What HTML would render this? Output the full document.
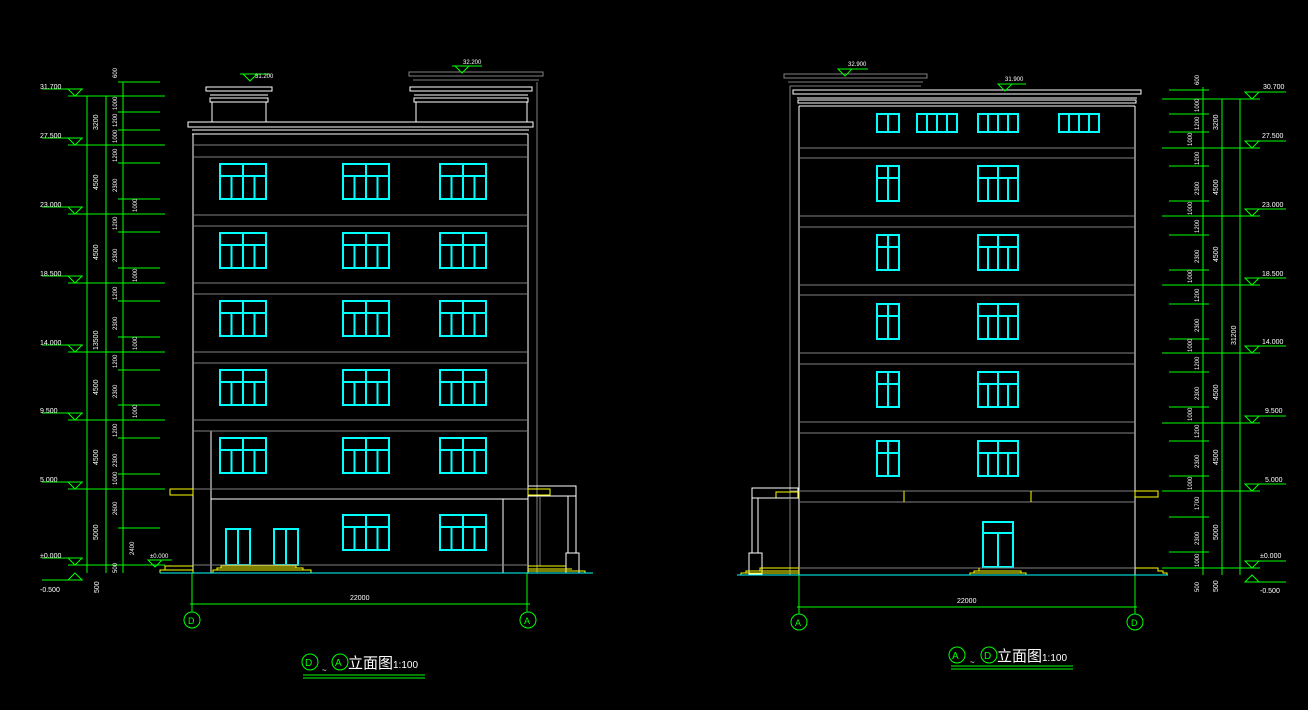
<!DOCTYPE html>
<html><head><meta charset="utf-8"><style>
html,body{margin:0;padding:0;background:#000;width:1308px;height:710px;overflow:hidden}
svg{display:block}
text{font-family:"Liberation Sans","Noto Sans CJK SC",sans-serif;fill:#fff}
</style></head><body>
<svg id="s" width="1308" height="710" viewBox="0 0 1308 710" xmlns="http://www.w3.org/2000/svg">
<g id="g" fill="none" stroke-width="1"></g>
<text x="339" y="626" font-size="0"> </text>
<text x="180" y="624" font-size="0"> </text>
<circle cx="310" cy="662" r="8" stroke="#0f0" fill="none"/><text x="305" y="666" font-size="10" style="fill:#0f0">D</text>
<circle cx="340" cy="662" r="8" stroke="#0f0" fill="none"/><text x="335" y="666" font-size="10" style="fill:#0f0">A</text>
<text x="322" y="673" font-size="8">~</text>
<text x="348" y="668" font-size="15">立面图</text><text x="393" y="668" font-size="10">1:100</text>
<circle cx="957" cy="655" r="8" stroke="#0f0" fill="none"/><text x="952" y="659" font-size="10" style="fill:#0f0">A</text>
<circle cx="989" cy="655" r="8" stroke="#0f0" fill="none"/><text x="984" y="659" font-size="10" style="fill:#0f0">D</text>
<text x="970" y="665" font-size="8">~</text>
<text x="997" y="661" font-size="15">立面图</text><text x="1042" y="661" font-size="10">1:100</text>
<circle cx="192" cy="620" r="8" stroke="#0f0" fill="none"/><text x="188" y="624" font-size="9" style="fill:#0f0">D</text>
<circle cx="528" cy="620" r="8" stroke="#0f0" fill="none"/><text x="524" y="624" font-size="9" style="fill:#0f0">A</text>
<circle cx="799" cy="622" r="8" stroke="#0f0" fill="none"/><text x="795" y="626" font-size="9" style="fill:#0f0">A</text>
<circle cx="1135" cy="622" r="8" stroke="#0f0" fill="none"/><text x="1131" y="626" font-size="9" style="fill:#0f0">D</text>
<text x="350" y="600" font-size="7">22000</text>
<text x="957" y="603" font-size="7">22000</text>
<text x="40" y="89" font-size="7">31.700</text>
<text x="40" y="138" font-size="7">27.500</text>
<text x="40" y="207" font-size="7">23.000</text>
<text x="40" y="276" font-size="7">18.500</text>
<text x="40" y="345" font-size="7">14.000</text>
<text x="40" y="413" font-size="7">9.500</text>
<text x="40" y="482" font-size="7">5.000</text>
<text x="40" y="558" font-size="7">±0.000</text>
<text x="40" y="592" font-size="7">-0.500</text>
<text x="150" y="558" font-size="6">±0.000</text>
<text x="255" y="78" font-size="6">31.200</text>
<text x="463" y="64" font-size="6">32.200</text>
<text x="848" y="66" font-size="6">32.900</text>
<text x="1005" y="81" font-size="6">31.900</text>
<text x="1263" y="89" font-size="7">30.700</text>
<text x="1262" y="138" font-size="7">27.500</text>
<text x="1262" y="207" font-size="7">23.000</text>
<text x="1262" y="276" font-size="7">18.500</text>
<text x="1262" y="344" font-size="7">14.000</text>
<text x="1265" y="413" font-size="7">9.500</text>
<text x="1265" y="482" font-size="7">5.000</text>
<text x="1260" y="558" font-size="7">±0.000</text>
<text x="1260" y="593" font-size="7">-0.500</text>
<g id="rt"></g>
</svg>
<script>
var g=document.getElementById('g'),rt=document.getElementById('rt'),NS='http://www.w3.org/2000/svg';
function E(t,a,p){var e=document.createElementNS(NS,t);for(var k in a)e.setAttribute(k,a[k]);(p||g).appendChild(e);return e;}
function L(x1,y1,x2,y2,c,w){E('line',{x1:x1,y1:y1,x2:x2,y2:y2,stroke:c,'stroke-width':w||1});}
function R(x,y,w,h,c,sw){E('rect',{x:x,y:y,width:w,height:h,stroke:c,'stroke-width':sw||1,fill:'none'});}
function T(x,y,s,sz){var t=E('text',{x:x,y:y,'font-size':sz||7,transform:'rotate(-90 '+x+' '+y+')'},rt);t.textContent=s;}
var W='#fff',G='#808080',C='#0ff',GR='#0f0',Y='#ff0';
function win(x,y,w,h,n){R(x,y,w,h,C,2);var t=y+Math.round(h*0.33);L(x,t,x+w,t,C,2);L(x+w/2,y,x+w/2,y+h,C,2);
 if(n==4){L(x+w/4,t,x+w/4,y+h,C,2);L(x+3*w/4,t,x+3*w/4,y+h,C,2);} }
function swin(x,y,w,h,n){R(x,y,w,h,C,2);for(var i=1;i<n;i++)L(x+w*i/n,y,x+w*i/n,y+h,C,2);}
function tri(x,y){E('path',{d:'M'+(x-7)+' '+y+'L'+(x+7)+' '+y+'L'+x+' '+(y+7)+'Z',stroke:GR,fill:'none'});}
// ===== LEFT BUILDING =====
L(193,134,193,573,W);L(211,431,211,573,W);L(528,134,528,573,W);
// cornice
R(188,122,345,5,W);L(190,127,530,127,W);L(192,130,529,130,W);L(192,134,528,134,W);
// penthouses
R(206,87,66,4,W);L(208,91,270,91,W);L(210,95,268,95,W);R(210,98,58,4,W);L(212,102,212,122,W);L(266,102,266,122,W);
R(409,72,134,4,G);L(411,76,541,76,G);L(413,80,539,80,G);L(537,82,537,573,G);
R(410,87,122,4,W);L(412,91,530,91,W);L(414,95,528,95,W);R(414,98,114,4,W);L(416,102,416,122,W);L(527,102,527,122,W);
// floor bands
[[145,157],[215,226],[283,294],[352,363],[420,431]].forEach(function(b){L(193,b[0],528,b[0],G);L(193,b[1],528,b[1],G);});
L(170,489,528,489,G);L(211,499,528,499,W);L(503,499,503,573,W);
R(170,489,23,6,Y);
// pergola right
R(528,486,48,10,W);L(528,496,576,496,W);R(528,489,22,6,Y);L(568,496,568,553,W);L(576,496,576,553,W);R(566,553,13,20,W);
L(540,496,540,566,G);
// windows
var cols=[220,343,440];[164,233,301,370,438].forEach(function(y){cols.forEach(function(x){win(x,y,46,35,4);});});
win(343,515,46,35,4);win(440,515,46,35,4);
[226,274].forEach(function(x){R(x,529,24,36,C,2);L(x+12,529,x+12,565,C,2);});
// steps
E('path',{d:'M213 573V570H311V573M217 570V568H303V570M221 568V566H296V568',stroke:Y});
E('path',{d:'M160 573V570H193V573M165 570V566H193',stroke:Y});
E('path',{d:'M528 566H566M528 569H572M528 571H585V573',stroke:Y});
L(193,565,528,565,G);
L(160,573,593,573,C);
// dims
L(192,573,192,612,GR);L(527,573,527,612,GR);L(190,604,530,604,GR);
L(303,675,425,675,GR);L(303,678,425,678,GR);
// left level dims
L(87,96,87,573,GR);L(106,96,106,573,GR);L(123,82,123,573,GR);
[96,145,214,283,352,420,489,565].forEach(function(y){L(68,y,165,y,GR);});
[82,112,130,163,199,232,268,301,337,370,405,438,474,528].forEach(function(y){L(118,y,160,y,GR);});
[[96,89],[145,138],[214,207],[283,276],[352,345],[420,413],[489,482],[565,558]].forEach(function(a){L(42,a[1],83,a[1],GR);tri(75,a[1]);});
L(42,580,83,580,GR);E('path',{d:'M68 580L82 580L75 573Z',stroke:GR,fill:'none'});
L(148,560,172,560,GR);tri(155,560);
L(240,74,270,74,GR);tri(250,74);L(452,66,482,66,GR);tri(462,66);
T(98,130,'3200');T(98,190,'4500');T(98,260,'4500');T(98,350,'13500');T(98,395,'4500');T(98,465,'4500');T(98,540,'5000');T(99,593,'500');
[[117,78,'600'],[117,110,'1000'],[117,127,'1200'],[117,143,'1000'],[117,162,'1200'],[117,192,'2300'],[137,212,'1000'],[117,230,'1200'],[117,262,'2300'],[137,282,'1000'],[117,300,'1200'],[117,330,'2300'],[137,350,'1000'],[117,368,'1200'],[117,398,'2300'],[137,418,'1000'],[117,437,'1200'],[117,467,'2300'],[117,485,'1000'],[117,515,'2600'],[134,555,'2400'],[117,573,'500']].forEach(function(a){T(a[0],a[1],a[2],6);});
// ===== RIGHT BUILDING =====
L(799,106,799,575,W);L(1135,106,1135,575,W);L(790,86,790,575,G);
R(784,74,143,4,G);L(786,78,925,78,G);L(788,82,923,82,G);L(790,86,921,86,G);
R(793,90,348,4,W);L(795,94,1139,94,W);L(797,98,1137,98,W);R(798,100,338,3,W);L(799,106,1135,106,W);
[[148,158],[216,227],[285,295],[353,364],[422,433]].forEach(function(b){L(799,b[0],1135,b[0],G);L(799,b[1],1135,b[1],G);});
L(790,491,1135,491,G);L(799,502,1135,502,G);L(904,491,904,502,Y);L(1031,491,1031,502,Y);
R(776,492,23,6,Y);R(1135,491,23,6,Y);
R(752,488,46,10,W);L(752,498,798,498,W);L(752,490,752,553,W);L(758,498,758,553,W);R(749,553,13,21,W);L(790,498,790,568,G);
swin(877,114,22,18,2);swin(917,114,40,18,4);swin(978,114,40,18,4);swin(1059,114,40,18,4);
[166,235,304,372,441].forEach(function(y){win(877,y,22,35,2);win(978,y,40,35,4);});
R(983,522,30,45,C,2);L(983,533,1013,533,C,2);L(998,533,998,567,C,2);
L(799,568,1135,568,G);
E('path',{d:'M970 575V573H1026V575M974 573V571H1021V573M979 571V568',stroke:Y});
E('path',{d:'M741 575V573H799M746 573V571H799M760 571V568H799',stroke:Y});
E('path',{d:'M1135 568H1158V571H1163V573H1167V575',stroke:Y});
L(737,575,1168,575,C);
L(799,575,799,614,GR);L(1135,575,1135,614,GR);L(797,607,1137,607,GR);
L(951,666,1073,666,GR);L(951,669,1073,669,GR);
L(1203,87,1203,575,GR);L(1222,99,1222,575,GR);L(1240,99,1240,575,GR);
[99,148,216,285,353,423,491,568].forEach(function(y){L(1162,y,1260,y,GR);});
[90,114,132,166,201,235,270,304,339,372,407,441,476,517,552].forEach(function(y){L(1169,y,1209,y,GR);});
[[99,92],[148,141],[216,209],[285,278],[353,346],[423,416],[491,484],[568,561]].forEach(function(a){L(1245,a[1],1286,a[1],GR);tri(1252,a[1]);});
L(1245,582,1286,582,GR);E('path',{d:'M1245 582L1259 582L1252 575Z',stroke:GR,fill:'none'});
L(998,84,1026,84,GR);tri(1005,84);L(840,69,868,69,GR);tri(845,69);
[[1199,85,'600'],[1199,112,'1000'],[1199,130,'1200'],[1192,146,'1000'],[1199,165,'1200'],[1199,195,'2300'],[1192,215,'1000'],[1199,233,'1200'],[1199,263,'2300'],[1192,283,'1000'],[1199,302,'1200'],[1199,332,'2300'],[1192,352,'1000'],[1199,370,'1200'],[1199,400,'2300'],[1192,421,'1000'],[1199,438,'1200'],[1199,468,'2300'],[1192,490,'1000'],[1199,510,'1700'],[1199,545,'2300'],[1199,567,'1000'],[1199,592,'500']].forEach(function(a){T(a[0],a[1],a[2],6);});
T(1218,130,'3200');T(1218,195,'4500');T(1218,262,'4500');T(1218,400,'4500');T(1218,465,'4500');T(1218,540,'5000');T(1218,592,'500');T(1236,345,'31200');
</script>
</body></html>
